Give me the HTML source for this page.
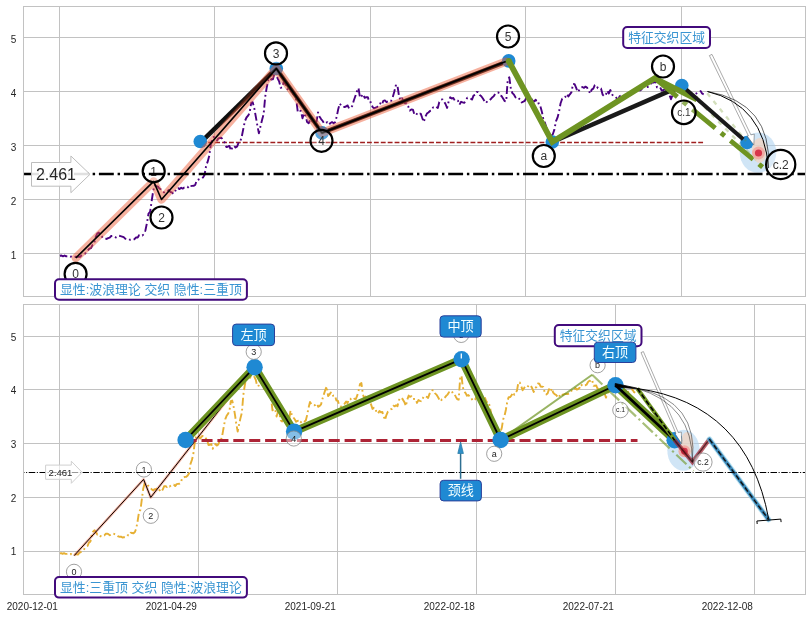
<!DOCTYPE html>
<html lang="zh"><head><meta charset="utf-8"><title>chart</title>
<style>html,body{margin:0;padding:0;background:#fff;overflow:hidden}svg{display:block}</style></head>
<body>
<svg width="811" height="617" viewBox="0 0 811 617">
<rect x="0" y="0" width="811" height="617" fill="#fff"/>
<g stroke="#c2c2c2" stroke-width="1" fill="none" shape-rendering="crispEdges">
<line x1="59.5" y1="6.5" x2="59.5" y2="296.5"/>
<line x1="214.5" y1="6.5" x2="214.5" y2="296.5"/>
<line x1="370.5" y1="6.5" x2="370.5" y2="296.5"/>
<line x1="525.5" y1="6.5" x2="525.5" y2="296.5"/>
<line x1="681.5" y1="6.5" x2="681.5" y2="296.5"/>
<line x1="23.5" y1="37.5" x2="805.5" y2="37.5"/>
<line x1="23.5" y1="91.5" x2="805.5" y2="91.5"/>
<line x1="23.5" y1="145.5" x2="805.5" y2="145.5"/>
<line x1="23.5" y1="199.5" x2="805.5" y2="199.5"/>
<line x1="23.5" y1="253.5" x2="805.5" y2="253.5"/>
<rect x="23.5" y="6.5" width="782.0" height="290.0"/>
</g>
<g stroke="#c2c2c2" stroke-width="1" fill="none" shape-rendering="crispEdges">
<line x1="59.5" y1="304.5" x2="59.5" y2="594.5"/>
<line x1="198.5" y1="304.5" x2="198.5" y2="594.5"/>
<line x1="337.5" y1="304.5" x2="337.5" y2="594.5"/>
<line x1="476.5" y1="304.5" x2="476.5" y2="594.5"/>
<line x1="615.5" y1="304.5" x2="615.5" y2="594.5"/>
<line x1="754.5" y1="304.5" x2="754.5" y2="594.5"/>
<line x1="23.5" y1="336.5" x2="805.5" y2="336.5"/>
<line x1="23.5" y1="389.5" x2="805.5" y2="389.5"/>
<line x1="23.5" y1="443.5" x2="805.5" y2="443.5"/>
<line x1="23.5" y1="497.5" x2="805.5" y2="497.5"/>
<line x1="23.5" y1="551.5" x2="805.5" y2="551.5"/>
<rect x="23.5" y="304.5" width="782.0" height="290.0"/>
</g>
<g font-family="Liberation Sans, Noto Sans CJK SC, sans-serif" font-size="10" fill="#262626" text-anchor="end">
<text x="16.4" y="42.5">5</text>
<text x="16.4" y="96.5">4</text>
<text x="16.4" y="150.5">3</text>
<text x="16.4" y="204.5">2</text>
<text x="16.4" y="258.5">1</text>
<text x="16.4" y="340.5">5</text>
<text x="16.4" y="394.2">4</text>
<text x="16.4" y="448.0">3</text>
<text x="16.4" y="501.7">2</text>
<text x="16.4" y="555.4">1</text>
<text x="57.9" y="609.6">2020-12-01</text>
<text x="196.9" y="609.6">2021-04-29</text>
<text x="335.9" y="609.6">2021-09-21</text>
<text x="474.9" y="609.6">2022-02-18</text>
<text x="613.9" y="609.6">2022-07-21</text>
<text x="752.9" y="609.6">2022-12-08</text>
</g>
<g>
<clipPath id="ct"><rect x="24" y="7" width="781" height="289"/></clipPath>
<clipPath id="cb"><rect x="24" y="305" width="781" height="289"/></clipPath>
<g clip-path="url(#ct)">
<ellipse cx="758" cy="152.6" rx="18.3" ry="20.2" fill="#a9d0ef" fill-opacity="0.55"/>
<polyline points="683.3,85.6 762.0,166.0" fill="none" stroke="#6e9422" stroke-opacity="0.3" stroke-width="2.3" stroke-dasharray="4.5 5.5"/>
<line x1="201.4" y1="142.5" x2="705" y2="142.5" stroke="#a01f1f" stroke-width="1.3" stroke-dasharray="4.85 2.05"/>
<polyline points="59.9,255.7 61.5,255.5 63.0,256.3 64.6,255.5 66.1,256.3 67.7,256.2 69.2,255.9 70.8,256.7 72.3,256.3 73.9,257.1 75.5,256.8 77.0,256.7 78.6,256.8 80.1,256.9 81.7,255.1 83.2,254.4 84.8,253.8 86.3,252.4 87.9,250.3 89.4,248.7 91.0,248.1 92.6,244.8 94.1,243.8 95.7,236.9 97.2,233.6 98.8,232.6 100.3,234.4 101.9,236.9 103.4,236.7 105.0,238.1 106.6,239.0 108.1,238.1 109.7,237.6 111.2,236.0 112.8,235.9 114.3,236.4 115.9,237.5 117.4,236.7 119.0,235.7 120.5,236.1 122.1,236.6 123.7,237.2 125.2,238.7 126.8,239.0 128.3,238.8 129.9,239.8 131.4,239.4 133.0,239.8 134.5,239.2 136.1,237.4 137.7,237.5 139.2,235.0 140.8,235.2 142.3,235.5 143.9,234.2 145.4,230.5 147.0,222.8 148.5,213.7 150.1,211.8 151.6,201.6 153.2,190.9 154.8,185.5 156.3,186.1 157.9,186.7 159.4,188.5 161.0,189.5 162.5,191.3 164.1,192.4 165.6,191.4 167.2,191.6 168.8,190.0 170.3,192.0 171.9,192.4 173.4,193.8 175.0,191.7 176.5,188.3 178.1,188.1 179.6,189.1 181.2,187.8 182.7,188.6 184.3,187.5 185.9,187.1 187.4,186.7 189.0,188.2 190.5,186.1 192.1,185.9 193.6,185.8 195.2,185.0 196.7,180.3 198.3,179.6 199.9,178.9 201.4,178.7 203.0,177.4 204.5,175.1 206.1,165.9 207.6,161.9 209.2,156.1 210.7,145.1 212.3,138.9 213.8,136.9 215.4,138.6 217.0,140.5 218.5,138.3 220.1,137.8 221.6,138.0 223.2,140.1 224.7,142.5 226.3,147.0 227.8,146.7 229.4,145.9 231.0,150.7 232.5,146.9 234.1,145.9 235.6,147.5 237.2,146.4 238.7,142.3 240.3,141.5 241.8,136.4 243.4,128.4 244.9,121.1 246.5,117.5 248.1,115.7 249.6,112.9 251.2,102.8 252.7,102.2 254.3,108.3 255.8,116.6 257.4,125.8 258.9,133.4 260.5,126.2 262.1,119.7 263.6,114.3 265.2,96.8 266.7,87.5 268.3,80.1 269.8,81.6 271.4,79.0 272.9,79.3 274.5,73.5 276.0,72.2 277.6,78.4 279.2,81.5 280.7,87.8 282.3,87.3 283.8,81.5 285.4,84.2 286.9,88.3 288.5,90.6 290.0,91.8 291.6,90.6 293.2,94.1 294.7,95.6 296.3,100.0 297.8,112.0 299.4,110.6 300.9,111.0 302.5,118.3 304.0,113.3 305.6,115.9 307.1,122.1 308.7,123.3 310.3,119.5 311.8,120.0 313.4,123.5 314.9,121.9 316.5,121.8 318.0,112.4 319.6,116.7 321.1,119.1 322.7,121.0 324.3,123.6 325.8,122.6 327.4,122.3 328.9,124.6 330.5,123.0 332.0,122.1 333.6,123.3 335.1,122.3 336.7,116.7 338.2,109.2 339.8,103.6 341.4,105.8 342.9,106.9 344.5,107.0 346.0,106.5 347.6,105.4 349.1,108.5 350.7,107.6 352.2,106.0 353.8,100.5 355.4,96.0 356.9,91.5 358.5,88.1 360.0,97.7 361.6,96.2 363.1,94.2 364.7,97.8 366.2,97.2 367.8,97.1 369.3,102.2 370.9,102.3 372.5,106.9 374.0,108.4 375.6,107.6 377.1,107.1 378.7,105.3 380.2,103.3 381.8,104.9 383.3,100.9 384.9,100.4 386.5,102.1 388.0,101.4 389.6,100.4 391.1,100.9 392.7,97.4 394.2,92.1 395.8,85.6 397.3,84.7 398.9,95.3 400.4,100.1 402.0,98.2 403.6,101.7 405.1,103.4 406.7,103.3 408.2,106.3 409.8,110.6 411.3,109.5 412.9,109.6 414.4,114.6 416.0,115.2 417.6,112.8 419.1,113.9 420.7,113.6 422.2,117.8 423.8,121.9 425.3,116.8 426.9,113.6 428.4,112.5 430.0,111.0 431.5,110.5 433.1,107.4 434.7,108.0 436.2,106.9 437.8,107.9 439.3,101.9 440.9,99.7 442.4,99.4 444.0,101.5 445.5,104.0 447.1,107.9 448.7,101.3 450.2,97.3 451.8,98.6 453.3,97.9 454.9,100.8 456.4,100.6 458.0,100.7 459.5,104.6 461.1,101.8 462.6,102.4 464.2,102.9 465.8,100.6 467.3,97.7 468.9,98.0 470.4,98.4 472.0,99.6 473.5,95.6 475.1,94.7 476.6,92.0 478.2,92.1 479.8,95.1 481.3,96.2 482.9,98.5 484.4,100.9 486.0,103.1 487.5,101.0 489.1,100.7 490.6,99.3 492.2,97.4 493.7,96.3 495.3,93.8 496.9,93.0 498.4,92.5 500.0,95.7 501.5,96.0 503.1,98.5 504.6,101.0 506.2,101.3 507.7,80.2 509.3,77.3 510.9,88.9 512.4,93.1 514.0,94.7 515.5,97.4 517.1,96.7 518.6,98.4 520.2,99.3 521.7,102.4 523.3,101.7 524.8,100.9 526.4,97.5 528.0,99.8 529.5,99.6 531.1,97.8 532.6,100.9 534.2,101.5 535.7,99.7 537.3,103.8 538.8,103.3 540.4,106.4 542.0,112.3 543.5,120.1 545.1,123.2 546.6,128.2 548.2,132.6 549.7,134.8 551.3,135.9 552.8,134.3 554.4,129.6 555.9,121.4 557.5,117.7 559.1,111.4 560.6,103.2 562.2,98.8 563.7,98.7 565.3,97.0 566.8,94.0 568.4,96.4 569.9,94.3 571.5,92.2 573.0,83.9 574.6,84.1 576.2,87.8 577.7,91.9 579.3,89.9 580.8,87.7 582.4,87.0 583.9,87.9 585.5,86.6 587.0,87.5 588.6,90.2 590.2,93.7 591.7,89.6 593.3,88.6 594.8,85.1 596.4,85.3 597.9,88.2 599.5,88.4 601.0,88.5 602.6,94.6 604.1,96.1 605.7,95.2 607.3,90.7 608.8,93.5 610.4,90.0 611.9,94.4 613.5,95.9 615.0,96.5 616.6,98.1 618.1,99.4 619.7,96.3 621.3,95.2 622.8,96.7 624.4,95.8 625.9,95.4 627.5,95.8 629.0,95.4 630.6,95.1 632.1,92.9 633.7,91.3 635.2,91.7 636.8,89.5 638.4,91.2 639.9,90.6 641.5,89.4 643.0,86.0 644.6,87.5 646.1,86.8 647.7,87.0 649.2,86.3 650.8,83.8 652.4,82.4 653.9,82.5 655.5,81.4 657.0,87.4 658.6,87.4 660.1,87.2 661.7,90.6 663.2,90.3 664.8,89.2 666.3,89.6 667.9,94.4 669.5,95.1 671.0,99.3 672.6,94.9 674.1,92.4 675.7,89.9 677.2,90.6 678.8,91.0 680.3,90.8 681.9,89.8 683.5,91.8 685.0,89.2 686.6,88.3 688.1,89.1 689.7,94.0 691.2,95.4 692.8,95.8 694.3,94.9 695.9,93.7 697.4,92.9 699.0,92.5 700.6,91.1 702.1,93.5 703.7,94.4" fill="none" stroke="#4b0082" stroke-width="1.9" stroke-dasharray="8 3 1.8 3" stroke-linejoin="round"/>
<polyline points="276.3,68.5 322.0,132.9 508.7,60.9 552.3,142.0" fill="none" stroke="#1a1a1a" stroke-width="4.0" stroke-linejoin="round"/>
<polyline points="201.3,141.9 276.3,68.5" fill="none" stroke="#1a1a1a" stroke-width="4.7" stroke-linejoin="round"/>
<polyline points="552.3,142.0 681.8,85.6" fill="none" stroke="#1a1a1a" stroke-width="4.5" stroke-linejoin="round"/>
<circle cx="200.3" cy="141.5" r="6.8" fill="#1f89d3"/>
<circle cx="276.3" cy="68.5" r="6.8" fill="#1f89d3"/>
<circle cx="322.0" cy="132.9" r="6.8" fill="#1f89d3"/>
<circle cx="508.7" cy="60.9" r="6.8" fill="#1f89d3"/>
<circle cx="552.3" cy="142.0" r="6.8" fill="#1f89d3"/>
<circle cx="681.8" cy="85.6" r="6.8" fill="#1f89d3"/>
<circle cx="747.0" cy="142.5" r="6.8" fill="#1f89d3"/>
<polyline points="75.8,258.0 153.6,181.4 161.5,199.5 276.3,68.5 322.0,132.9 505.8,61.6" fill="none" stroke="#eb552d" stroke-opacity="0.46" stroke-width="8.4" stroke-linejoin="round" stroke-linecap="round"/>
<polyline points="205.3,137.1 276.3,68.5 322.0,132.9 502.8,62.7" fill="none" stroke="#000" stroke-opacity="0.45" stroke-width="2.8" stroke-linejoin="round"/>
<polyline points="75.8,258.0 153.6,181.4 161.5,199.5 276.3,68.5 322.0,132.9 505.8,61.6" fill="none" stroke="#000" stroke-width="1.6" stroke-linejoin="round"/>
<polyline points="508.7,60.9 552.3,142.0 654.6,78.2 697.0,99.5" fill="none" stroke="#6e9422" stroke-width="5.8" stroke-linejoin="miter" stroke-miterlimit="10"/>
<circle cx="508.7" cy="60.9" r="2.9" fill="#6e9422"/>
<polyline points="654.6,78.2 765.5,169.5" fill="none" stroke="#6e9422" stroke-width="4.8" stroke-dasharray="29.5 7.4 4.8 7.4"/>
<polyline points="707.2,93.2 746.0,141.0" fill="none" stroke="#6e9422" stroke-opacity="0.3" stroke-width="2.3" stroke-dasharray="4.5 5.5"/>
<polyline points="686.3,89.5 743.2,139.2" fill="none" stroke="#1a1a1a" stroke-width="4.0"/>
<ellipse cx="759.5" cy="150.5" rx="7.5" ry="12.5" fill="#f3d3bd" fill-opacity="0.7"/>
<circle cx="758.5" cy="153" r="6.4" fill="#f2a59c" fill-opacity="0.85"/>
<circle cx="758.5" cy="153" r="3.6" fill="#d8364b"/>
<path d="M709.4,55.6 L712.0,54.4 L750.9,134.9 L754.3,134.1 L753.8,144.9 L747.2,136.1 L748.4,135.9 Z" fill="#fff" stroke="#444" stroke-width="0.45"/>
<path d="M707.5,91.5 Q763.8,105.0 768.5,168" fill="none" stroke="#000" stroke-width="1.0"/>
<path d="M707.5,91.5 Q772.0,102.5 768.5,168" fill="none" stroke="#000" stroke-width="0.6"/>
</g>
<circle cx="75.6" cy="273.9" r="11.0" fill="#fff" fill-opacity="0.25" stroke="#000" stroke-width="2.2"/>
<text x="75.6" y="278.2" font-family="Liberation Sans, Noto Sans CJK SC, sans-serif" font-size="12.0" fill="#333" text-anchor="middle">0</text>
<circle cx="153.7" cy="171.3" r="11.0" fill="#fff" fill-opacity="0.25" stroke="#000" stroke-width="2.2"/>
<text x="153.7" y="175.6" font-family="Liberation Sans, Noto Sans CJK SC, sans-serif" font-size="12.0" fill="#333" text-anchor="middle">1</text>
<circle cx="161.5" cy="217.5" r="11.0" fill="#fff" fill-opacity="0.25" stroke="#000" stroke-width="2.2"/>
<text x="161.5" y="221.8" font-family="Liberation Sans, Noto Sans CJK SC, sans-serif" font-size="12.0" fill="#333" text-anchor="middle">2</text>
<circle cx="276.0" cy="53.4" r="11.0" fill="#fff" fill-opacity="0.25" stroke="#000" stroke-width="2.2"/>
<text x="276.0" y="57.7" font-family="Liberation Sans, Noto Sans CJK SC, sans-serif" font-size="12.0" fill="#333" text-anchor="middle">3</text>
<circle cx="321.5" cy="140.8" r="11.0" fill="#fff" fill-opacity="0.25" stroke="#000" stroke-width="2.2"/>
<text x="321.5" y="145.1" font-family="Liberation Sans, Noto Sans CJK SC, sans-serif" font-size="12.0" fill="#333" text-anchor="middle">4</text>
<circle cx="508.0" cy="36.5" r="11.0" fill="#fff" fill-opacity="0.25" stroke="#000" stroke-width="2.2"/>
<text x="508.0" y="40.8" font-family="Liberation Sans, Noto Sans CJK SC, sans-serif" font-size="12.0" fill="#333" text-anchor="middle">5</text>
<circle cx="543.8" cy="156.0" r="11.0" fill="#fff" fill-opacity="0.25" stroke="#000" stroke-width="2.2"/>
<text x="543.8" y="160.3" font-family="Liberation Sans, Noto Sans CJK SC, sans-serif" font-size="12.0" fill="#333" text-anchor="middle">a</text>
<circle cx="663.0" cy="66.5" r="11.0" fill="#fff" fill-opacity="0.25" stroke="#000" stroke-width="2.2"/>
<text x="663.0" y="70.8" font-family="Liberation Sans, Noto Sans CJK SC, sans-serif" font-size="12.0" fill="#333" text-anchor="middle">b</text>
<circle cx="683.8" cy="112.3" r="11.8" fill="#fff" fill-opacity="0.25" stroke="#000" stroke-width="2.2"/>
<text x="683.8" y="115.9" font-family="Liberation Sans, Noto Sans CJK SC, sans-serif" font-size="10.0" fill="#333" text-anchor="middle">c.1</text>
<circle cx="780.7" cy="164.5" r="14.6" fill="#fff" fill-opacity="0.25" stroke="#000" stroke-width="2.2"/>
<text x="780.7" y="168.8" font-family="Liberation Sans, Noto Sans CJK SC, sans-serif" font-size="12.0" fill="#333" text-anchor="middle">c.2</text>
<line x1="-0.9" y1="174" x2="805.5" y2="174" stroke="#000" stroke-width="2.35" stroke-dasharray="14.9 3.8 2.45 3.8" clip-path="url(#ct)"/>
<path d="M31.5,162.5 L70.9,162.5 L70.9,156 L90,174.3 L70.9,192.7 L70.9,186.2 L31.5,186.2 Z" fill="#fff" fill-opacity="0.88" stroke="#bdbdbd" stroke-width="1"/>
<text x="56" y="179.8" font-family="Liberation Sans, Noto Sans CJK SC, sans-serif" font-size="16" fill="#262626" text-anchor="middle">2.461</text>
<rect x="55.0" y="279.3" width="191.9" height="20.5" rx="4.0" fill="#fff" fill-opacity="1.00" stroke="#420a7c" stroke-width="2.0"/>
<text x="150.9" y="294.2" font-family="Liberation Sans, Noto Sans CJK SC, sans-serif" font-size="12.9" fill="#3a95d2" text-anchor="middle">显性:波浪理论 交织 隐性:三重顶</text>
<rect x="623.2" y="27.0" width="86.8" height="20.9" rx="4.0" fill="#fff" fill-opacity="1.00" stroke="#420a7c" stroke-width="2.0"/>
<text x="666.6" y="42.1" font-family="Liberation Sans, Noto Sans CJK SC, sans-serif" font-size="12.8" fill="#3a95d2" text-anchor="middle">特征交织区域</text>
</g>
<g clip-path="url(#cb)">
<ellipse cx="683.5" cy="450.3" rx="16.2" ry="20.5" fill="#a9d0ef" fill-opacity="0.55"/>
<polyline points="59.9,553.4 61.2,553.2 62.6,553.9 64.0,553.2 65.4,553.9 66.8,553.9 68.2,553.6 69.6,554.4 71.0,554.0 72.4,554.7 73.8,554.5 75.1,554.4 76.5,554.4 77.9,554.6 79.3,552.8 80.7,552.1 82.1,551.5 83.5,550.1 84.9,548.1 86.3,546.5 87.6,545.9 89.0,542.5 90.4,541.6 91.8,534.7 93.2,531.4 94.6,530.3 96.0,532.2 97.4,534.7 98.8,534.4 100.2,535.9 101.5,536.7 102.9,535.8 104.3,535.4 105.7,533.8 107.1,533.7 108.5,534.2 109.9,535.2 111.3,534.5 112.7,533.5 114.1,533.9 115.4,534.4 116.8,534.9 118.2,536.4 119.6,536.8 121.0,536.6 122.4,537.5 123.8,537.2 125.2,537.5 126.6,536.9 127.9,535.2 129.3,535.3 130.7,532.8 132.1,533.0 133.5,533.3 134.9,532.0 136.3,528.3 137.7,520.6 139.1,511.5 140.5,509.6 141.8,499.5 143.2,488.8 144.6,483.5 146.0,484.0 147.4,484.6 148.8,486.5 150.2,487.4 151.6,489.2 153.0,490.4 154.4,489.3 155.7,489.6 157.1,487.9 158.5,489.9 159.9,490.4 161.3,491.8 162.7,489.6 164.1,486.3 165.5,486.1 166.9,487.1 168.2,485.7 169.6,486.5 171.0,485.5 172.4,485.1 173.8,484.6 175.2,486.1 176.6,484.1 178.0,483.9 179.4,483.8 180.8,482.9 182.1,478.3 183.5,477.6 184.9,476.9 186.3,476.7 187.7,475.5 189.1,473.2 190.5,463.9 191.9,460.0 193.3,454.2 194.7,443.2 196.0,437.0 197.4,435.0 198.8,436.8 200.2,438.6 201.6,436.5 203.0,436.0 204.4,436.2 205.8,438.3 207.2,440.6 208.5,445.1 209.9,444.8 211.3,444.0 212.7,448.8 214.1,445.0 215.5,444.0 216.9,445.6 218.3,444.5 219.7,440.4 221.1,439.6 222.4,434.6 223.8,426.6 225.2,419.3 226.6,415.8 228.0,413.9 229.4,411.2 230.8,401.1 232.2,400.5 233.6,406.6 235.0,414.9 236.3,424.0 237.7,431.6 239.1,424.4 240.5,417.9 241.9,412.6 243.3,395.1 244.7,385.8 246.1,378.5 247.5,380.0 248.8,377.4 250.2,377.7 251.6,371.9 253.0,370.6 254.4,376.8 255.8,379.9 257.2,386.1 258.6,385.7 260.0,379.9 261.4,382.6 262.7,386.7 264.1,389.0 265.5,390.1 266.9,388.9 268.3,392.5 269.7,394.0 271.1,398.4 272.5,410.3 273.9,408.9 275.2,409.3 276.6,416.5 278.0,411.5 279.4,414.2 280.8,420.4 282.2,421.5 283.6,417.8 285.0,418.3 286.4,421.7 287.8,420.2 289.1,420.0 290.5,410.6 291.9,415.0 293.3,417.3 294.7,419.2 296.1,421.8 297.5,420.9 298.9,420.6 300.3,422.9 301.7,421.3 303.0,420.4 304.4,421.6 305.8,420.5 307.2,414.9 308.6,407.5 310.0,402.0 311.4,404.1 312.8,405.2 314.2,405.3 315.5,404.8 316.9,403.7 318.3,406.8 319.7,405.9 321.1,404.3 322.5,398.8 323.9,394.3 325.3,389.9 326.7,386.5 328.1,396.0 329.4,394.6 330.8,392.5 332.2,396.1 333.6,395.5 335.0,395.5 336.4,400.6 337.8,400.6 339.2,405.2 340.6,406.7 342.0,405.9 343.3,405.4 344.7,403.6 346.1,401.6 347.5,403.2 348.9,399.2 350.3,398.7 351.7,400.4 353.1,399.7 354.5,398.7 355.8,399.2 357.2,395.7 358.6,390.4 360.0,384.0 361.4,383.1 362.8,393.7 364.2,398.5 365.6,396.5 367.0,400.0 368.4,401.7 369.7,401.6 371.1,404.6 372.5,408.9 373.9,407.8 375.3,407.9 376.7,412.9 378.1,413.5 379.5,411.1 380.9,412.2 382.3,411.9 383.6,416.1 385.0,420.1 386.4,415.1 387.8,411.8 389.2,410.8 390.6,409.3 392.0,408.8 393.4,405.7 394.8,406.3 396.1,405.2 397.5,406.2 398.9,400.2 400.3,398.0 401.7,397.8 403.1,399.9 404.5,402.3 405.9,406.1 407.3,399.6 408.7,395.6 410.0,396.9 411.4,396.2 412.8,399.1 414.2,398.9 415.6,399.0 417.0,402.9 418.4,400.1 419.8,400.8 421.2,401.2 422.5,399.0 423.9,396.1 425.3,396.4 426.7,396.8 428.1,397.9 429.5,393.9 430.9,393.0 432.3,390.3 433.7,390.4 435.1,393.4 436.4,394.6 437.8,396.8 439.2,399.2 440.6,401.4 442.0,399.3 443.4,399.0 444.8,397.6 446.2,395.8 447.6,394.6 449.0,392.2 450.3,391.3 451.7,390.9 453.1,394.0 454.5,394.3 455.9,396.9 457.3,399.3 458.7,399.7 460.1,378.6 461.5,375.7 462.8,387.2 464.2,391.4 465.6,393.1 467.0,395.7 468.4,395.0 469.8,396.7 471.2,397.6 472.6,400.7 474.0,400.0 475.4,399.2 476.7,395.9 478.1,398.1 479.5,398.0 480.9,396.1 482.3,399.3 483.7,399.9 485.1,398.0 486.5,402.1 487.9,401.6 489.3,404.7 490.6,410.6 492.0,418.4 493.4,421.4 494.8,426.5 496.2,430.8 497.6,433.0 499.0,434.1 500.4,432.5 501.8,427.8 503.1,419.6 504.5,415.9 505.9,409.7 507.3,401.5 508.7,397.1 510.1,397.1 511.5,395.4 512.9,392.3 514.3,394.7 515.7,392.6 517.0,390.6 518.4,382.3 519.8,382.5 521.2,386.1 522.6,390.3 524.0,388.2 525.4,386.1 526.8,385.4 528.2,386.3 529.6,385.0 530.9,385.8 532.3,388.5 533.7,392.0 535.1,388.0 536.5,386.9 537.9,383.5 539.3,383.7 540.7,386.6 542.1,386.7 543.4,386.9 544.8,393.0 546.2,394.4 547.6,393.5 549.0,389.1 550.4,391.9 551.8,388.4 553.2,392.7 554.6,394.2 556.0,394.8 557.3,396.4 558.7,397.8 560.1,394.6 561.5,393.5 562.9,395.1 564.3,394.1 565.7,393.8 567.1,394.1 568.5,393.8 569.8,393.4 571.2,391.2 572.6,389.6 574.0,390.1 575.4,387.9 576.8,389.5 578.2,389.0 579.6,387.8 581.0,384.4 582.4,385.9 583.7,385.1 585.1,385.4 586.5,384.7 587.9,382.2 589.3,380.8 590.7,380.9 592.1,379.8 593.5,385.8 594.9,385.8 596.3,385.5 597.6,389.0 599.0,388.7 600.4,387.6 601.8,388.0 603.2,392.8 604.6,393.4 606.0,397.6 607.4,393.3 608.8,390.8 610.1,388.3 611.5,389.0 612.9,389.3 614.3,389.2 615.7,388.2 617.1,390.2 618.5,387.6 619.9,386.6 621.3,387.5 622.7,392.4 624.0,393.8 625.4,394.1 626.8,393.2 628.2,392.0 629.6,391.2 631.0,390.9 632.4,389.4 633.8,391.9 635.2,392.7" fill="none" stroke="#e6b034" stroke-width="1.9" stroke-dasharray="8 3 1.8 3" stroke-linejoin="round"/>
<polyline points="74.1,555.7 143.6,479.4 150.7,497.4 253.2,367.0 294.1,431.1 458.3,360.1" fill="none" stroke="#eb552d" stroke-opacity="0.42" stroke-width="2.6" stroke-linejoin="round"/>
<polyline points="74.1,555.7 143.6,479.4 150.7,497.4 253.2,367.0 294.1,431.1 458.3,360.1" fill="none" stroke="#000" stroke-width="1" stroke-linejoin="round"/>
<polyline points="460.9,359.4 499.9,440.2 592.2,374.8" fill="none" stroke="#6e9422" stroke-opacity="0.7" stroke-width="2.0" stroke-linejoin="miter"/>
<polyline points="592.2,374.8 693.5,471.0" fill="none" stroke="#6e9422" stroke-opacity="0.6" stroke-width="2.2" stroke-dasharray="14 3.5 2.2 3.5"/>
<line x1="185.6" y1="440.5" x2="637.5" y2="440.5" stroke="#ad2436" stroke-width="3.1" stroke-dasharray="11.05 4.85"/>
<polyline points="185.6,440.0 254.6,367.2 294.1,431.6 461.6,359.2 500.6,440.0 615.5,385.2 674.6,440.2" fill="none" stroke="#6e9422" stroke-width="8.0" stroke-linejoin="round"/>
<polyline points="185.6,440.0 254.6,367.2 294.1,431.6 461.6,359.2 500.6,440.0 615.5,385.2 674.6,440.2" fill="none" stroke="#000" stroke-width="1.8" stroke-linejoin="round"/>
<circle cx="185.6" cy="440.0" r="8.2" fill="#1f89d3"/>
<circle cx="254.6" cy="367.2" r="8.2" fill="#1f89d3"/>
<circle cx="294.1" cy="431.6" r="8.2" fill="#1f89d3"/>
<circle cx="461.6" cy="359.2" r="8.2" fill="#1f89d3"/>
<circle cx="500.6" cy="440.0" r="8.2" fill="#1f89d3"/>
<circle cx="615.5" cy="385.2" r="8.2" fill="#1f89d3"/>
<circle cx="674.6" cy="440.2" r="8.2" fill="#1f89d3"/>
<line x1="461.3" y1="353.4" x2="461.3" y2="358.6" stroke="#fff" stroke-width="1.3"/>
<path d="M615.5,385.2 L674.6,440.2" stroke="#000" stroke-width="2.6" fill="none"/>
<path d="M615.2,383.5 L637.3,388.2 L637.3,388.8 L615.2,386.9 Z" fill="#000" stroke="#000" stroke-width="0.8" stroke-linejoin="round"/>
<path d="M637.3,388.5 L674.6,440.2" stroke="#6e9422" stroke-width="4" fill="none"/>
<path d="M637.3,388.5 L674.6,440.2" stroke="#000" stroke-width="1.6" stroke-dasharray="5 2.5" fill="none"/>
<ellipse cx="687" cy="444.5" rx="6.5" ry="12.5" fill="#f3d3bd" fill-opacity="0.7"/>
<circle cx="684.4" cy="451.2" r="6" fill="#f2a59c" fill-opacity="0.85"/>
<circle cx="684.4" cy="451.2" r="3.4" fill="#d8364b"/>
<polyline points="674.6,440.2 692.4,462.0 709.4,439.2" fill="none" stroke="#a01c2c" stroke-opacity="0.7" stroke-width="4.2" stroke-linejoin="miter"/>
<polyline points="674.6,440.2 692.4,462.0 709.4,439.2" fill="none" stroke="#1a0000" stroke-opacity="0.6" stroke-width="1.4" stroke-linejoin="miter"/>
<polyline points="709.4,439.2 768.6,519.6" fill="none" stroke="#8fd0ea" stroke-width="5.6" stroke-opacity="0.6" stroke-linecap="round"/>
<polyline points="709.4,439.2 768.6,519.6" fill="none" stroke="#3b88b8" stroke-width="3.6" stroke-linecap="round"/>
<polyline points="709.4,439.2 768.6,519.6" fill="none" stroke="#111" stroke-width="1.4" stroke-dasharray="5 2.5"/>
<path d="M641.0,352.6 L643.4,351.6 L678.3,432.6 L681.3,432.0 L681.6,443.6 L675.0,433.6 L676.0,433.5 Z" fill="#fff" stroke="#444" stroke-width="0.45"/>
<path d="M637.3,388.5 Q747.2,404.3 768.6,518.6" fill="none" stroke="#000" stroke-width="1"/>
<path d="M637.3,388.5 Q693,405 692.3,461.7" fill="none" stroke="#000" stroke-width="0.45"/>
<path d="M637.3,388.5 Q699,401 692.3,461.7" fill="none" stroke="#000" stroke-width="0.45"/>
<path d="M757.2,524.0 L756.9,521.0 L780.8,519.1 L781.1,522.1" fill="none" stroke="#000" stroke-width="1"/>
</g>
<circle cx="74.0" cy="571.8" r="7.6" fill="#fff" fill-opacity="0.45" stroke="#888" stroke-width="0.8"/>
<text x="74.0" y="575.0" font-family="Liberation Sans, Noto Sans CJK SC, sans-serif" font-size="9.0" fill="#262626" text-anchor="middle">0</text>
<circle cx="143.9" cy="469.5" r="7.6" fill="#fff" fill-opacity="0.45" stroke="#888" stroke-width="0.8"/>
<text x="143.9" y="472.7" font-family="Liberation Sans, Noto Sans CJK SC, sans-serif" font-size="9.0" fill="#262626" text-anchor="middle">1</text>
<circle cx="150.8" cy="515.8" r="7.6" fill="#fff" fill-opacity="0.45" stroke="#888" stroke-width="0.8"/>
<text x="150.8" y="519.0" font-family="Liberation Sans, Noto Sans CJK SC, sans-serif" font-size="9.0" fill="#262626" text-anchor="middle">2</text>
<circle cx="253.7" cy="351.8" r="7.6" fill="#fff" fill-opacity="0.45" stroke="#888" stroke-width="0.8"/>
<text x="253.7" y="355.0" font-family="Liberation Sans, Noto Sans CJK SC, sans-serif" font-size="9.0" fill="#262626" text-anchor="middle">3</text>
<circle cx="293.8" cy="438.5" r="7.6" fill="#fff" fill-opacity="0.45" stroke="#888" stroke-width="0.8"/>
<text x="293.8" y="441.7" font-family="Liberation Sans, Noto Sans CJK SC, sans-serif" font-size="9.0" fill="#262626" text-anchor="middle">4</text>
<circle cx="461.2" cy="334.9" r="7.6" fill="#fff" fill-opacity="0.45" stroke="#888" stroke-width="0.8"/>
<text x="461.2" y="338.1" font-family="Liberation Sans, Noto Sans CJK SC, sans-serif" font-size="9.0" fill="#262626" text-anchor="middle">5</text>
<circle cx="494.2" cy="453.8" r="7.6" fill="#fff" fill-opacity="0.45" stroke="#888" stroke-width="0.8"/>
<text x="494.2" y="457.0" font-family="Liberation Sans, Noto Sans CJK SC, sans-serif" font-size="9.0" fill="#262626" text-anchor="middle">a</text>
<circle cx="597.6" cy="365.2" r="7.6" fill="#fff" fill-opacity="0.45" stroke="#888" stroke-width="0.8"/>
<text x="597.6" y="368.4" font-family="Liberation Sans, Noto Sans CJK SC, sans-serif" font-size="9.0" fill="#262626" text-anchor="middle">b</text>
<circle cx="620.5" cy="410.0" r="7.8" fill="#fff" fill-opacity="0.45" stroke="#888" stroke-width="0.8"/>
<text x="620.5" y="412.4" font-family="Liberation Sans, Noto Sans CJK SC, sans-serif" font-size="6.8" fill="#262626" text-anchor="middle">c.1</text>
<circle cx="703.0" cy="462.1" r="9.1" fill="#fff" fill-opacity="0.45" stroke="#888" stroke-width="0.8"/>
<text x="703.0" y="465.2" font-family="Liberation Sans, Noto Sans CJK SC, sans-serif" font-size="8.6" fill="#262626" text-anchor="middle">c.2</text>
<line x1="18.0" y1="472.5" x2="805.5" y2="472.5" stroke="#000" stroke-width="1.05" stroke-dasharray="6.5 1.6 1.05 1.6" clip-path="url(#cb)"/>
<path d="M45.6,465.1 L71.3,465.1 L71.3,461.2 L82.1,472.3 L71.3,483.3 L71.3,479.3 L45.6,479.3 Z" fill="#fff" fill-opacity="0.6" stroke="#d0d0d0" stroke-width="1"/>
<text x="60.5" y="475.6" font-family="Liberation Sans, Noto Sans CJK SC, sans-serif" font-size="9.5" fill="#262626" text-anchor="middle">2.461</text>
<line x1="460.6" y1="478.8" x2="460.6" y2="450" stroke="#2e6f92" stroke-width="1.5"/>
<path d="M460.6,442.0 L463.4,453.5 L457.8,453.5 Z" fill="#2e8fc8" stroke="#2e7fa8" stroke-width="0.8"/>
<rect x="55.0" y="577.0" width="191.9" height="20.6" rx="4.0" fill="#fff" fill-opacity="1.00" stroke="#420a7c" stroke-width="2.0"/>
<text x="150.9" y="591.9" font-family="Liberation Sans, Noto Sans CJK SC, sans-serif" font-size="12.9" fill="#3a95d2" text-anchor="middle">显性:三重顶 交织 隐性:波浪理论</text>
<rect x="554.8" y="325.0" width="86.7" height="21.2" rx="4.0" fill="#fff" fill-opacity="1.00" stroke="#420a7c" stroke-width="2.0"/>
<text x="598.1" y="340.2" font-family="Liberation Sans, Noto Sans CJK SC, sans-serif" font-size="12.8" fill="#3a95d2" text-anchor="middle">特征交织区域</text>
<rect x="232.6" y="324.1" width="41.9" height="21.5" rx="3.5" fill="#1f89d3" fill-opacity="1.00" stroke="#2a3f9a" stroke-width="1.0"/>
<text x="253.6" y="339.6" font-family="Liberation Sans, Noto Sans CJK SC, sans-serif" font-size="13.1" fill="#f4ffff" text-anchor="middle">左顶</text>
<rect x="440.0" y="315.8" width="41.2" height="21.3" rx="3.5" fill="#1f89d3" fill-opacity="1.00" stroke="#2a3f9a" stroke-width="1.0"/>
<text x="460.6" y="331.2" font-family="Liberation Sans, Noto Sans CJK SC, sans-serif" font-size="13.1" fill="#f4ffff" text-anchor="middle">中顶</text>
<rect x="594.3" y="342.2" width="41.6" height="20.3" rx="3.5" fill="#1f89d3" fill-opacity="1.00" stroke="#2a3f9a" stroke-width="1.0"/>
<text x="615.1" y="357.1" font-family="Liberation Sans, Noto Sans CJK SC, sans-serif" font-size="13.1" fill="#f4ffff" text-anchor="middle">右顶</text>
<rect x="440.1" y="480.3" width="41.3" height="20.6" rx="3.5" fill="#1f89d3" fill-opacity="1.00" stroke="#2a3f9a" stroke-width="1.0"/>
<text x="460.8" y="495.3" font-family="Liberation Sans, Noto Sans CJK SC, sans-serif" font-size="13.1" fill="#f4ffff" text-anchor="middle">颈线</text>
</svg>
</body></html>
